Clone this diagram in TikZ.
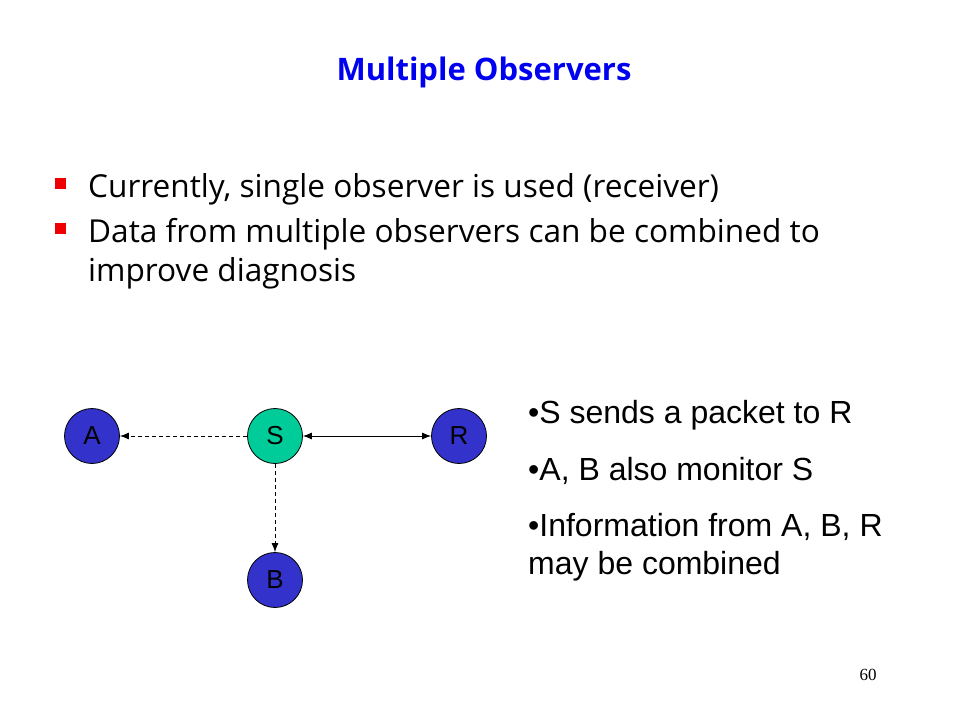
\documentclass[tikz,border=0pt]{standalone}
\usepackage{fontspec}
\setmainfont{Liberation Sans}
\newfontfamily\comicfont{Open Sans}
\newfontfamily\pagefont{Liberation Serif}
\usetikzlibrary{arrows.meta}
\definecolor{titleblue}{RGB}{0,0,240}
\definecolor{nodeblue}{RGB}{51,51,204}
\definecolor{nodegreen}{RGB}{0,204,153}
\definecolor{bulletred}{RGB}{238,0,0}
\begin{document}
\begin{tikzpicture}[x=1pt,y=-1pt,>={Latex[length=9pt,width=7pt]},
  station/.style={circle,draw=black,line width=0.8pt,minimum size=55pt,inner sep=0pt,
    font=\fontsize{26}{26}\selectfont},
  watch/.style={->,dash pattern=on 4pt off 3pt,line width=0.9pt},
  slide/.style={anchor=base west,inner sep=0pt,font=\comicfont\fontsize{31.6}{31.6}\selectfont},
  note/.style={anchor=base west,inner sep=0pt,font=\fontsize{32}{32}\selectfont}]
  \useasboundingbox[fill=white] (0,0) rectangle (960,720);
%%
  % Title
  \node[anchor=base,inner sep=0pt,text=titleblue,font=\comicfont\bfseries\fontsize{31}{31}\selectfont]
    (title) at (484,80) {Multiple Observers};
  % Bullets
  \fill[bulletred] (55,178) rectangle (66,189);
  \node[slide] (one) at (88,197) {Currently, single observer is used (receiver)};
  \fill[bulletred] (55,223) rectangle (66,234);
  \node[slide] (two) at (88,242) {Data from multiple observers can be combined to};
  \node[slide] (three) at (88,281) {improve diagnosis};
  % Node: A
  \node[station,fill=nodeblue] (A) at (92,436) {A};
  % Node: S
  \node[station,fill=nodegreen] (S) at (275,436) {S};
  % Node: R
  \node[station,fill=nodeblue] (R) at (459,436) {R};
  % Node: B
  \node[station,fill=nodeblue] (B) at (275,580) {B};
  % Edge: S -> A
  \draw[watch] (S) -- (A);
  % Edge: S -> B
  \draw[watch] (S) -- (B);
  % Edge: S <-> R
  \draw[<->,line width=0.9pt] (S) -- (R);
  % Notes
  \node[note] (n1) at (528,423) {\textbullet S sends a packet to R};
  \node[note] (n2) at (528,480) {\textbullet A, B also monitor S};
  \node[note] (n3) at (528,536) {\textbullet Information from A, B, R};
  \node[note] (n4) at (528,574) {may be combined};
  % Page number
  \node[anchor=base,inner sep=0pt,font=\pagefont\fontsize{17}{17}\selectfont] (page) at (868,680) {60};
%
\end{tikzpicture}
\end{document}
